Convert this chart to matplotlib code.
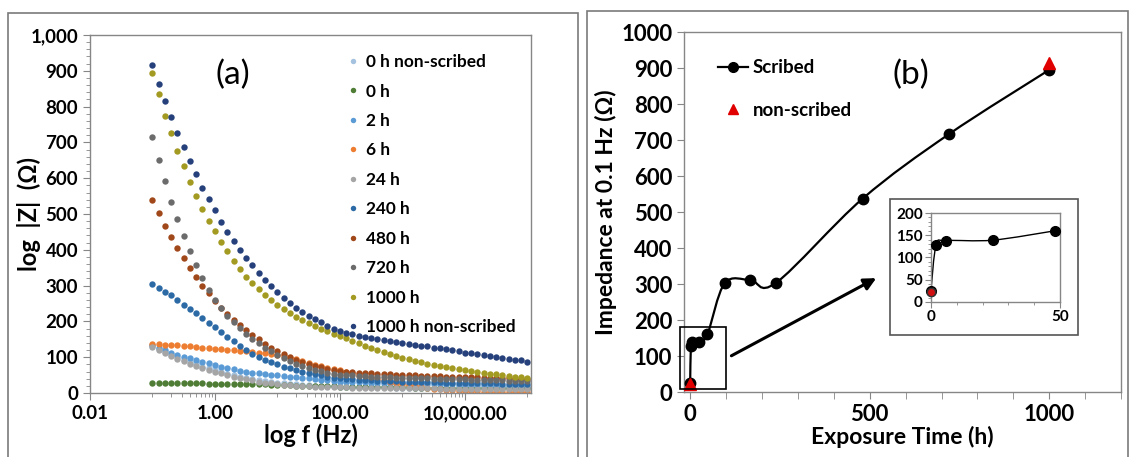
import numpy as np
import matplotlib as mpl
mpl.use('Agg')
import matplotlib.pyplot as plt
from matplotlib.path import Path
from matplotlib.patches import PathPatch, Rectangle
from matplotlib.lines import Line2D
from matplotlib.ticker import FuncFormatter, MultipleLocator

mpl.rcParams.update({'font.family': ['Lato', 'DejaVu Sans'], 'font.size': 12})

# ---- panel (a): |Z| vs frequency, 10 points per decade ----
FREQ = [0.1, 0.1259, 0.1585, 0.1995, 0.2512, 0.3162, 0.3981, 0.5012, 0.631, 0.7943,
        1, 1.259, 1.585, 1.995, 2.512, 3.162, 3.981, 5.012, 6.31, 7.943,
        10, 12.59, 15.85, 19.95, 25.12, 31.62, 39.81, 50.12, 63.1, 79.43,
        100, 125.9, 158.5, 199.5, 251.2, 316.2, 398.1, 501.2, 631, 794.3,
        1000, 1259, 1585, 1995, 2512, 3162, 3981, 5012, 6310, 7943,
        10000, 12590, 15850, 19950, 25120, 31620, 39810, 50120, 63100, 79430, 100000]

Z_0H_NS = [131, 123, 115, 107, 100, 93, 86, 80, 74, 69, 64,
           59, 54, 50, 46, 42, 39, 36, 33, 31, 29,
           27, 25, 24, 23, 22, 21, 20, 19, 19, 18,
           18, 17, 17, 17, 16, 16, 16, 16, 15, 15,
           15, 15, 15, 14, 14, 14, 14, 14, 14, 13,
           13, 13, 13, 13, 13, 12, 12, 12, 12, 12]
Z_0H = [28, 28, 28, 28, 27, 27, 27, 27, 27, 26, 26,
        26, 26, 25, 25, 25, 24, 24, 24, 23, 23,
        22, 22, 21, 21, 20, 20, 19, 19, 19, 18,
        18, 18, 17, 17, 17, 17, 16, 16, 16, 16,
        16, 15, 15, 15, 15, 15, 15, 14, 14, 14,
        14, 14, 14, 14, 13, 13, 13, 13, 13, 13]
Z_2H = [133, 127, 120, 113, 107, 102, 97, 92, 87, 83, 79,
        74, 70, 66, 61, 59, 57, 55, 53, 51, 49,
        48, 46, 45, 43, 41, 39, 37, 35, 33, 32,
        31, 31, 30, 30, 29, 29, 28, 28, 27, 27,
        26, 26, 25, 25, 25, 24, 24, 24, 23, 23,
        23, 22, 22, 22, 21, 21, 21, 20, 20, 20]
Z_6H = [137, 136, 135, 134, 133, 131, 130, 128, 127, 126, 124,
        123, 121, 120, 118, 116, 115, 113, 111, 108, 105,
        103, 99, 94, 89, 84, 79, 75, 71, 67, 63,
        59, 55, 51, 47, 43, 39, 35, 31, 28, 25,
        22, 19, 16, 14, 12, 10, 9, 8, 7, 6,
        5, 5, 4, 4, 4, 3, 3, 3, 3, 3]
Z_24H = [128, 120, 112, 104, 96, 89, 82, 76, 70, 65, 60,
         55, 50, 46, 42, 38, 35, 32, 29, 27, 25,
         23, 22, 21, 20, 19, 18, 17, 17, 16, 16,
         16, 15, 15, 15, 15, 14, 14, 14, 14, 14,
         13, 13, 13, 13, 13, 12, 12, 12, 12, 12,
         12, 12, 11, 11, 11, 11, 11, 10, 10, 10]
Z_240H = [305, 294, 283, 273, 260, 246, 234, 223, 209, 196, 185,
          171, 157, 145, 132, 120, 110, 101, 93, 86, 80,
          74, 69, 64, 60, 56, 52, 49, 46, 43, 41,
          39, 38, 37, 36, 35, 34, 34, 33, 33, 32,
          32, 31, 31, 30, 30, 30, 29, 29, 29, 28,
          28, 28, 27, 27, 27, 26, 26, 26, 25, 25]
Z_480H = [539, 504, 466, 435, 404, 376, 350, 325, 300, 278, 257,
          238, 222, 205, 190, 176, 163, 150, 138, 127, 117,
          108, 100, 93, 87, 81, 76, 72, 68, 65, 62,
          60, 58, 57, 56, 55, 54, 53, 52, 51, 50,
          49, 49, 48, 48, 47, 47, 46, 46, 45, 45,
          44, 44, 43, 43, 42, 41, 41, 40, 39, 38]
Z_720H = [715, 650, 592, 534, 486, 439, 397, 357, 322, 288, 260,
          238, 215, 198, 182, 166, 152, 139, 127, 116, 106,
          97, 89, 82, 76, 70, 65, 61, 57, 54, 51,
          50, 49, 48, 47, 46, 45, 44, 44, 43, 43,
          42, 42, 41, 41, 40, 40, 39, 39, 38, 38,
          37, 37, 36, 36, 35, 35, 34, 34, 33, 33]
Z_1000H = [894, 834, 774, 725, 677, 633, 589, 549, 515, 481, 452,
           423, 397, 369, 346, 325, 307, 290, 274, 259, 246,
           234, 223, 213, 204, 195, 187, 180, 173, 166, 160,
           153, 146, 139, 132, 126, 120, 114, 108, 103, 98,
           94, 90, 86, 82, 78, 75, 72, 69, 66, 63,
           61, 58, 56, 54, 52, 50, 48, 46, 44, 42]
Z_1000H_NS = [915, 864, 816, 772, 727, 687, 647, 612, 574, 541, 511,
              478, 450, 425, 399, 378, 357, 335, 316, 298, 282,
              266, 252, 238, 227, 215, 206, 197, 187, 180, 173,
              168, 164, 160, 157, 154, 151, 148, 145, 142, 139,
              137, 135, 132, 130, 127, 125, 122, 119, 116, 113,
              111, 108, 106, 103, 101, 98, 96, 93, 91, 88]

SERIES = [Z_0H_NS, Z_0H, Z_2H, Z_6H, Z_24H, Z_240H, Z_480H, Z_720H, Z_1000H, Z_1000H_NS]
LABELS = ['0 h non-scribed', '0 h', '2 h', '6 h', '24 h', '240 h', '480 h',
          '720 h', '1000 h', '1000 h non-scribed']
COLORS = ['#a4c2df', '#4f7d35', '#5b9bd5', '#ed7d31', '#a5a5a5', '#2c6aa6',
          '#a0481a', '#6b6b6b', '#a39a22', '#25407a']

# ---- panel (b): impedance at 0.1 Hz vs exposure time ----
SCRIBED_T = [0, 2, 6, 24, 48, 96, 168, 240, 480, 720, 1000]
SCRIBED_Z = [25, 128, 138, 139, 160, 302, 311, 304, 537, 716, 895]
NONSCRIBED_T = [0, 1000]
NONSCRIBED_Z = [22, 915]

GRAY = '#868686'


def smooth_line(ax, xs, ys, **kw):
    # Catmull-Rom style smoothing like Excel's "smoothed line"
    p = np.column_stack([xs, ys]).astype(float)
    n = len(p)
    verts = [p[0]]
    codes = [Path.MOVETO]
    for i in range(n - 1):
        p0 = p[max(i - 1, 0)]
        p1 = p[i]
        p2 = p[i + 1]
        p3 = p[min(i + 2, n - 1)]
        verts += [p1 + (p2 - p0) / 6, p2 - (p3 - p1) / 6, p2]
        codes += [Path.CURVE4] * 3
    ax.add_patch(PathPatch(Path(verts, codes), fill=False, **kw))


def style_spines(ax):
    for s in ax.spines.values():
        s.set_color(GRAY)
        s.set_linewidth(1.0)
    ax.tick_params(which='both', color=GRAY, direction='out')


def bold_ticks(ax):
    for t in ax.get_xticklabels() + ax.get_yticklabels():
        t.set_fontweight('bold')


fig = plt.figure(figsize=(11.42, 4.57), dpi=100)

# panel frames
fig.add_artist(Rectangle((0.007, -0.05), 0.499, 1.021, transform=fig.transFigure,
                         fill=False, ec='#7a7a7a', lw=1.2))
fig.add_artist(Rectangle((0.514, -0.05), 0.474, 1.026, transform=fig.transFigure,
                         fill=False, ec='#7a7a7a', lw=1.2))

# ---------------- (a) ----------------
ax1 = fig.add_axes([0.0788, 0.140, 0.3862, 0.7834])
for z, lab, c in zip(SERIES, LABELS, COLORS):
    ax1.plot(FREQ, z, 'o', ms=4.6, color=c, mec='none', label=lab)
ax1.set_xscale('log')
ax1.set_xlim(0.01, 1.15e5)
ax1.set_ylim(0, 1000)
ax1.set_xticks([0.01, 1, 100, 1e4], labels=['0.01', '1.00', '100.00', '10,000.00'])
minor = [m * 10.0 ** d for d in (-1, 1, 3) for m in range(1, 10)] + [1e5]
ax1.set_xticks(minor, minor=True)
ax1.set_xticklabels([], minor=True)
ax1.yaxis.set_major_locator(MultipleLocator(100))
ax1.yaxis.set_minor_locator(MultipleLocator(20))
ax1.yaxis.set_major_formatter(FuncFormatter(lambda v, p: f'{v:,.0f}'))
style_spines(ax1)
ax1.tick_params(which='major', length=5, labelsize=13.5)
ax1.tick_params(which='minor', length=3)
bold_ticks(ax1)
ax1.set_xlabel('log f (Hz)', fontsize=17, fontweight='bold', labelpad=1)
ax1.set_ylabel('log  |Z|  (Ω)', fontsize=17, fontweight='bold')
ax1.yaxis.set_label_coords(-0.112, 0.5)
ax1.text(0.324, 0.888, '(a)', transform=ax1.transAxes, fontsize=24,
         ha='center', va='center')
ax1.legend(loc='upper left', bbox_to_anchor=(0.572, 0.966), frameon=False,
           handlelength=0.5, handletextpad=0.45, labelspacing=0.78,
           borderaxespad=0, markerscale=0.85,
           prop={'weight': 'bold', 'size': 12.4})

# ---------------- (b) ----------------
ax2 = fig.add_axes([0.599, 0.1422, 0.3827, 0.7877])
ax2.set_xlim(-17, 1200)
ax2.set_ylim(0, 1000)
smooth_line(ax2, SCRIBED_T, SCRIBED_Z, ec='black', lw=1.6, zorder=2)
ax2.plot(SCRIBED_T, SCRIBED_Z, 'o', ms=7.5, color='black', zorder=3)
ax2.plot(NONSCRIBED_T, NONSCRIBED_Z, '^', ms=8, color='#e00000', zorder=4)
ax2.set_xticks([0, 500, 1000])
ax2.xaxis.set_minor_locator(MultipleLocator(100))
ax2.yaxis.set_major_locator(MultipleLocator(100))
style_spines(ax2)
ax2.tick_params(which='major', length=5, labelsize=16)
ax2.tick_params(which='minor', length=5)
bold_ticks(ax2)
ax2.set_xlabel('Exposure Time (h)', fontsize=16.5, fontweight='bold', labelpad=1)
ax2.set_ylabel('Impedance at 0.1 Hz (Ω)', fontsize=16.5, fontweight='bold', labelpad=3)
ax2.text(0.52, 0.88, '(b)', transform=ax2.transAxes, fontsize=24,
         ha='center', va='center')
handles = [Line2D([], [], color='black', lw=1.6, marker='o', ms=7),
           Line2D([], [], color='#e00000', lw=0, marker='^', ms=7)]
ax2.legend(handles, ['Scribed', 'non-scribed'], loc='upper left',
           bbox_to_anchor=(0.06, 0.945), frameon=False, handlelength=1.6,
           handletextpad=0.25, labelspacing=1.35, borderaxespad=0,
           prop={'weight': 'bold', 'size': 13.5})

# zoom box and arrow
ax2.add_patch(Rectangle((-27, 8), 127, 172, fill=False, ec='black', lw=1.2,
                        clip_on=False, zorder=5))
ax2.annotate('', xy=(525, 320), xytext=(108, 97),
             arrowprops=dict(arrowstyle='-|>', color='black', lw=2.2,
                             mutation_scale=18))

# inset
fig.add_artist(Rectangle((0.7793, 0.2670), 0.1646, 0.2976, transform=fig.transFigure,
                         fill=False, ec='#555555', lw=1.2))
ax3 = fig.add_axes([0.8152, 0.3392, 0.113, 0.1947])
ins_t = [t for t in SCRIBED_T if t <= 50]
ins_z = SCRIBED_Z[:len(ins_t)]
ax3.set_xlim(0, 50)
ax3.set_ylim(0, 200)
smooth_line(ax3, ins_t, ins_z, ec='black', lw=1.0, zorder=2)
ax3.plot(ins_t, ins_z, 'o', ms=7, color='black', zorder=3, clip_on=False)
ax3.plot(NONSCRIBED_T[:1], NONSCRIBED_Z[:1], 'o', ms=6, color='#d01010', mec='#333333',
         zorder=4, clip_on=False)
ax3.set_xticks([0, 50])
ax3.xaxis.set_minor_locator(MultipleLocator(10))
ax3.yaxis.set_major_locator(MultipleLocator(50))
ax3.yaxis.set_minor_locator(MultipleLocator(10))
style_spines(ax3)
ax3.tick_params(which='major', length=4, labelsize=11, pad=2)
ax3.tick_params(which='minor', length=2.5)
bold_ticks(ax3)

fig.savefig('out.png', dpi=100)
